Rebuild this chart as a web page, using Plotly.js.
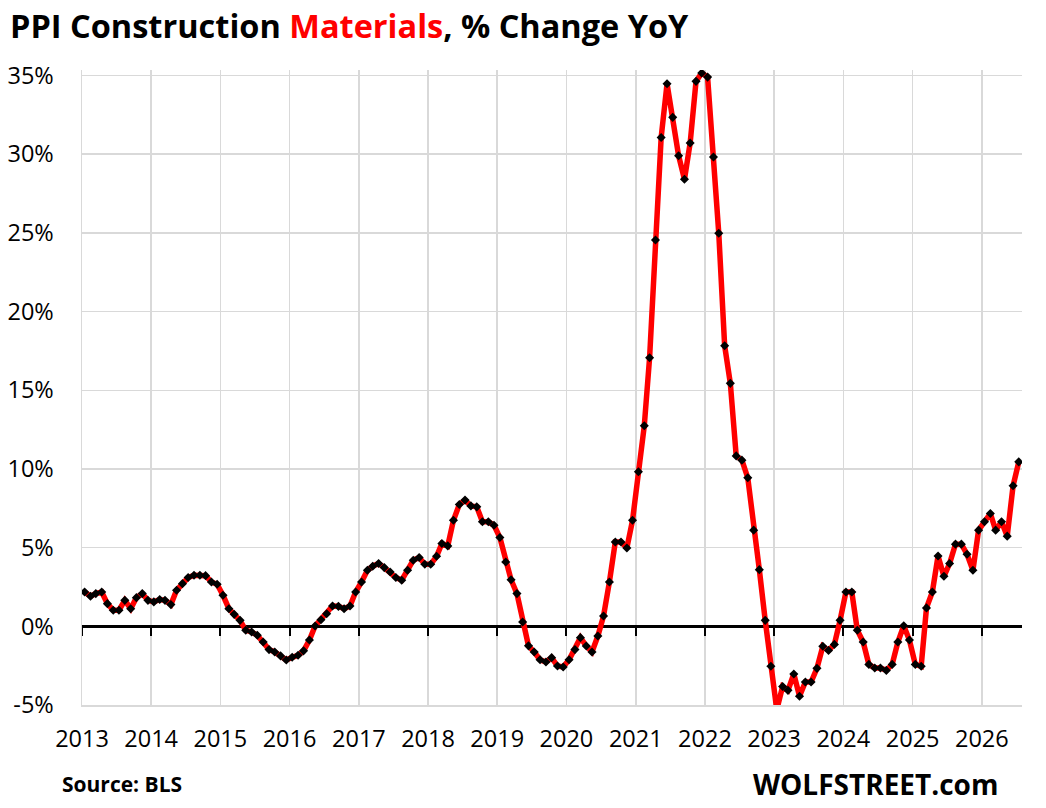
<!DOCTYPE html>
<html>
<head>
<meta charset="utf-8">
<script src="https://cdn.plot.ly/plotly-3.0.1.min.js"></script>
<style>
  html, body { margin: 0; padding: 0; background: #ffffff; }
  #chart { width: 1046px; height: 808px; }
</style>
</head>
<body>
<div id="chart"></div>
<script>
// ---- Data ----
const startYear = 2013;          // first observation: January 2013
const yoyChange = [
  // 2013
  2.18, 1.91, 2.08, 2.18, 1.44, 1.02, 1.02, 1.65, 1.12, 1.82, 2.08, 1.65,
  // 2014
  1.55, 1.70, 1.65, 1.38, 2.29, 2.71, 3.10, 3.24, 3.24, 3.22, 2.82, 2.67,
  // 2015
  1.97, 1.12, 0.76, 0.38, -0.25, -0.36, -0.57, -1.00, -1.48, -1.63, -1.88, -2.14,
  // 2016
  -1.97, -1.84, -1.56, -0.87, 0.02, 0.42, 0.80, 1.29, 1.27, 1.12, 1.29, 2.18,
  // 2017
  2.82, 3.56, 3.82, 3.99, 3.73, 3.45, 3.10, 2.93, 3.56, 4.20, 4.37, 3.94,
  // 2018
  3.94, 4.45, 5.26, 5.11, 6.74, 7.74, 8.02, 7.65, 7.59, 6.64, 6.64, 6.42,
  // 2019
  5.64, 4.09, 2.96, 2.08, 0.27, -1.24, -1.63, -2.12, -2.27, -1.99, -2.52, -2.59,
  // 2020
  -2.12, -1.48, -0.72, -1.25, -1.63, -0.62, 0.66, 2.82, 5.36, 5.36, 4.98, 6.74,
  // 2021
  9.82, 12.74, 17.07, 24.55, 31.06, 34.48, 32.34, 29.90, 28.41, 30.71, 34.63, 35.16,
  // 2022
  34.90, 29.82, 24.98, 17.83, 15.44, 10.83, 10.56, 9.44, 6.11, 3.60, 0.38, -2.54,
  // 2023
  -5.30, -3.82, -4.07, -3.03, -4.44, -3.54, -3.54, -2.67, -1.27, -1.53, -1.15, 0.38,
  // 2024
  2.18, 2.18, -0.25, -1.00, -2.42, -2.65, -2.65, -2.80, -2.42, -1.00, 0.04, -0.87,
  // 2025
  -2.42, -2.54, 1.17, 2.18, 4.47, 3.18, 3.99, 5.22, 5.22, 4.58, 3.56, 6.11,
  // 2026
  6.64, 7.17, 6.11, 6.64, 5.73, 8.93, 10.45
];
const yTickVals = [-5, 0, 5, 10, 15, 20, 25, 30, 35];
const yTickText = ['-5%', '0%', '5%', '10%', '15%', '20%', '25%', '30%', '35%'];
const yRange = [-5, 35.35];
const xRange = ['2013-01-01', '2026-08-01'];
const titleText = 'PPI Construction <span style="color:#ff0000">Materials</span>, % Change YoY';
const sourceText = 'Source: BLS';
const brandText = 'WOLFSTREET.com';

// monthly dates (mid-month) for each observation
const months = yoyChange.map(function (v, i) {
  const y = startYear + Math.floor(i / 12);
  const m = (i % 12) + 1;
  return y + '-' + (m < 10 ? '0' + m : m) + '-15';
});

const FONT = '"Open Sans", "Liberation Sans", sans-serif';
const GRID = '#d9d9d9';

// plot-area geometry (pixels)
const PLOT_TOP = 70.2, PLOT_BOTTOM = 704.7, PLOT_LEFT = 82, PLOT_RIGHT = 1022;
const plotH = PLOT_BOTTOM - PLOT_TOP, plotW = PLOT_RIGHT - PLOT_LEFT;
const zeroFrac = (0 - yRange[0]) / (yRange[1] - yRange[0]);

const traces = [
  {
    x: months,
    y: yoyChange,
    type: 'scatter',
    mode: 'lines+markers',
    line: { color: '#ff0000', width: 5.5 },
    marker: { symbol: 'diamond', size: 7, color: '#000000' },
    hoverinfo: 'x+y',
    showlegend: false
  },
  {
    // carrier for the zero-line axis with its tick marks
    x: [months[0]],
    y: [yoyChange[0]],
    xaxis: 'x2',
    yaxis: 'y',
    type: 'scatter',
    mode: 'markers',
    marker: { opacity: 0 },
    hoverinfo: 'skip',
    showlegend: false
  }
];

const layout = {
  width: 1046,
  height: 808,
  paper_bgcolor: '#ffffff',
  plot_bgcolor: '#ffffff',
  margin: { l: PLOT_LEFT, r: 1046 - PLOT_RIGHT, t: PLOT_TOP, b: 808 - PLOT_BOTTOM, pad: 0 },
  font: { family: FONT, color: '#000000' },
  title: {
    text: titleText,
    font: { family: FONT, size: 32.5, color: '#000000', weight: 700 },
    x: 10 / 1046,
    xanchor: 'left',
    xref: 'container',
    y: 1 - 27 / 808,
    yanchor: 'middle',
    yref: 'container'
  },
  xaxis: {
    type: 'date',
    range: xRange,
    tickmode: 'linear',
    tick0: '2013-01-01',
    dtick: 'M12',
    tickformat: '%Y',
    showgrid: true,
    gridcolor: GRID,
    gridwidth: 1.5,
    showline: true,
    linecolor: GRID,
    linewidth: 1.5,
    zeroline: false,
    ticks: '',
    ticklabelstandoff: 12,
    tickfont: { family: FONT, size: 23.5, color: '#000000' },
    fixedrange: true
  },
  xaxis2: {
    type: 'date',
    overlaying: 'x',
    anchor: 'free',
    position: zeroFrac,
    range: xRange,
    tickmode: 'linear',
    tick0: '2013-01-01',
    dtick: 'M12',
    showgrid: false,
    showline: true,
    linecolor: '#000000',
    linewidth: 2.2,
    ticks: 'outside',
    ticklen: 8,
    tickwidth: 2,
    tickcolor: '#000000',
    showticklabels: false,
    zeroline: false,
    layer: 'below traces',
    fixedrange: true
  },
  yaxis: {
    range: yRange,
    tickmode: 'array',
    tickvals: yTickVals,
    ticktext: yTickText,
    showgrid: true,
    gridcolor: GRID,
    gridwidth: 1.5,
    showline: true,
    linecolor: GRID,
    linewidth: 1.5,
    zeroline: false,
    ticks: '',
    ticklabelstandoff: 22,
    tickfont: { family: FONT, size: 23.5, color: '#000000' },
    fixedrange: true
  },
  annotations: [
    {
      text: sourceText,
      xref: 'paper', yref: 'paper',
      x: (60 - PLOT_LEFT) / plotW, y: (PLOT_BOTTOM - 784) / plotH,
      xanchor: 'left', yanchor: 'middle',
      showarrow: false,
      font: { family: FONT, size: 21, color: '#000000', weight: 700 }
    },
    {
      text: brandText,
      xref: 'paper', yref: 'paper',
      x: (1000 - PLOT_LEFT) / plotW, y: (PLOT_BOTTOM - 784) / plotH,
      xanchor: 'right', yanchor: 'middle',
      showarrow: false,
      font: { family: FONT, size: 28, color: '#000000', weight: 700 }
    }
  ]
};

Plotly.newPlot('chart', traces, layout, { displayModeBar: false, staticPlot: true });
</script>
</body>
</html>
